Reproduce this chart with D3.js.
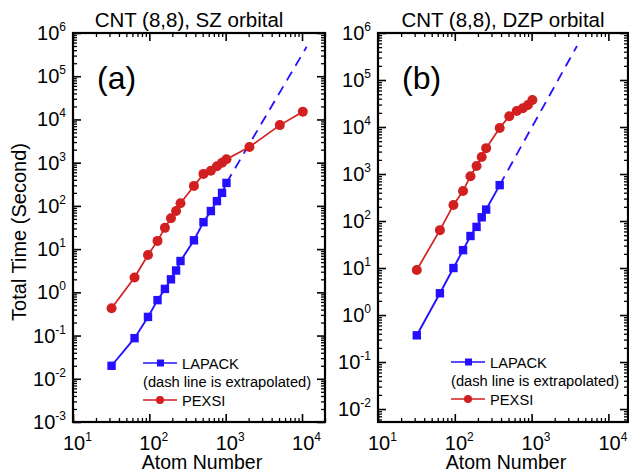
<!DOCTYPE html>
<html>
<head>
<meta charset="utf-8">
<script src="https://cdn.jsdelivr.net/npm/d3@7"></script>
<style>
  body { margin: 0; background: #fff; }
  svg { font-family: "Liberation Sans", Arial, sans-serif; }
</style>
</head>
<body>
<div id="chart"></div>
<script>
// atom numbers (CNT 8,8 : 32 atoms per cell)
const atomsA = [32, 64, 96, 128, 160, 192, 224, 256, 384, 512, 640, 768, 896, 1024];
const atomsPexsiA = [32, 64, 96, 128, 160, 192, 224, 256, 384, 512, 640, 768, 896, 1024, 2048, 5120, 10240];
const lapackA = [0.02, 0.087, 0.27, 0.66, 1.2, 2.0, 3.2, 5.3, 16, 42, 76, 129, 200, 340];
const pexsiA = [0.43, 2.2, 7.3, 15.5, 31, 52, 76, 115, 290, 550, 650, 830, 1000, 1200, 2300, 7400, 15000];
const extrapA = [[1024, 340], [11500, 480000]];

const atomsLapackB = [32, 64, 96, 128, 160, 192, 224, 256, 384];
const atomsPexsiB = [32, 64, 96, 128, 160, 192, 224, 256, 384, 512, 640, 768, 896, 1024];
const lapackB = [0.37, 2.9, 10, 24, 48, 75, 120, 175, 580];
const pexsiB = [9.1, 64, 220, 435, 900, 1480, 2300, 3550, 9500, 17000, 22000, 25000, 29500, 37500];
const extrapB = [[384, 580], [3900, 530000]];

const titles = ["CNT (8,8), SZ orbital", "CNT (8,8), DZP orbital"];
const panelTags = ["(a)", "(b)"];
const legendLabels = ["LAPACK", "(dash line is extrapolated)", "PEXSI"];

const blue = "#2410ff";
const red = "#d21f1f";

const W = 629, H = 472;
const svg = d3.select("#chart").append("svg")
    .attr("width", W)
    .attr("height", H);

function logTicks(lo, hi) {
    const major = [], minor = [];
    for (let e = Math.floor(Math.log10(lo)); e <= Math.ceil(Math.log10(hi)); e++) {
        for (let m = 1; m < 10; m++) {
            const v = m * Math.pow(10, e);
            if (v < lo * 0.999 || v > hi * 1.001) continue;
            if (m === 1) major.push(v); else minor.push(v);
        }
    }
    return {major, minor};
}

function drawPanel(p) {
    const x = d3.scaleLog().domain(p.xDomain).range([p.left, p.right]);
    const y = d3.scaleLog().domain(p.yDomain).range([p.bottom, p.top]);
    const g = svg.append("g");

    const xt = logTicks(p.xDomain[0], p.xDomain[1]);
    const yt = logTicks(p.yDomain[0], p.yDomain[1]);

    // ticks on all four sides, pointing inward
    const sides = [
        [d3.axisBottom(x), `translate(0,${p.bottom})`, xt],
        [d3.axisTop(x), `translate(0,${p.top})`, xt],
        [d3.axisLeft(y), `translate(${p.left},0)`, yt],
        [d3.axisRight(y), `translate(${p.right},0)`, yt]
    ];
    sides.forEach(([ax, tr, t]) => {
        g.append("g").attr("transform", tr)
            .call(ax.tickValues(t.minor).tickSizeInner(-4).tickSizeOuter(0).tickFormat(""))
            .call(a => a.select(".domain").remove())
            .selectAll("line").attr("stroke", "#000").attr("stroke-width", 1.3);
        g.append("g").attr("transform", tr)
            .call(ax.tickValues(t.major).tickSizeInner(-8).tickSizeOuter(0).tickFormat(""))
            .call(a => a.select(".domain").remove())
            .selectAll("line").attr("stroke", "#000").attr("stroke-width", 1.6);
    });

    // frame
    g.append("rect")
        .attr("x", p.left).attr("y", p.top)
        .attr("width", p.right - p.left).attr("height", p.bottom - p.top)
        .attr("fill", "none").attr("stroke", "#000").attr("stroke-width", 2.2);

    // x tick labels
    xt.major.forEach(v => {
        const e = Math.round(Math.log10(v));
        const t = g.append("text")
            .attr("x", x(v) - 10).attr("y", p.bottom + 28)
            .attr("font-size", 20).attr("text-anchor", "start");
        t.append("tspan").text("10");
        t.append("tspan").attr("dy", -9).attr("font-size", 12).text(e);
    });
    // y tick labels
    yt.major.forEach(v => {
        const e = Math.round(Math.log10(v));
        const t = g.append("text")
            .attr("x", p.left - 7).attr("y", y(v) + 7)
            .attr("font-size", 20).attr("text-anchor", "end");
        t.append("tspan").text("10");
        t.append("tspan").attr("dy", -9).attr("font-size", 12).text(e);
    });

    g.append("text")
        .attr("x", p.titleX).attr("y", 27)
        .attr("text-anchor", "middle").attr("font-size", 20.5)
        .text(p.title);
    g.append("text")
        .attr("x", (p.left + p.right) / 2 + 3).attr("y", 469)
        .attr("text-anchor", "middle").attr("font-size", 19.5)
        .text("Atom Number");
    g.append("text")
        .attr("x", p.left + 24).attr("y", 89)
        .attr("font-size", 32)
        .text(p.tag);

    const line = d3.line().x(d => x(d[0])).y(d => y(d[1]));

    // extrapolation
    g.append("path")
        .datum(p.extrap)
        .attr("d", line)
        .attr("fill", "none").attr("stroke", blue)
        .attr("stroke-width", 1.8).attr("stroke-dasharray", "10,7");

    const lap = p.lapackX.map((a, i) => [a, p.lapack[i]]);
    const pex = p.pexsiX.map((a, i) => [a, p.pexsi[i]]);

    g.append("path").datum(pex).attr("d", line)
        .attr("fill", "none").attr("stroke", red).attr("stroke-width", 1.7);
    g.selectAll(".pc").data(pex).enter().append("circle")
        .attr("cx", d => x(d[0])).attr("cy", d => y(d[1])).attr("r", 5)
        .attr("fill", red);

    g.append("path").datum(lap).attr("d", line)
        .attr("fill", "none").attr("stroke", blue).attr("stroke-width", 1.9);
    g.selectAll(".ls").data(lap).enter().append("rect")
        .attr("x", d => x(d[0]) - 4.2).attr("y", d => y(d[1]) - 4.2)
        .attr("width", 8.4).attr("height", 8.4)
        .attr("fill", blue);

    // legend
    const lx = p.left + p.legendDx, ly = p.legendY;
    g.append("line").attr("x1", lx).attr("x2", lx + 34).attr("y1", ly).attr("y2", ly)
        .attr("stroke", blue).attr("stroke-width", 1.6);
    g.append("rect").attr("x", lx + 14).attr("y", ly - 3.5).attr("width", 7).attr("height", 7).attr("fill", blue);
    g.append("line").attr("x1", lx).attr("x2", lx + 34).attr("y1", ly + 37).attr("y2", ly + 37)
        .attr("stroke", red).attr("stroke-width", 1.6);
    g.append("circle").attr("cx", lx + 17).attr("cy", ly + 37).attr("r", 4).attr("fill", red);
    g.append("text").attr("x", lx + 39).attr("y", ly + 5.5).attr("font-size", 14.7).text(legendLabels[0]);
    g.append("text").attr("x", lx).attr("y", ly + 24).attr("font-size", 14.7).text(legendLabels[1]);
    g.append("text").attr("x", lx + 39).attr("y", ly + 42.5).attr("font-size", 14.7).text(legendLabels[2]);
}

drawPanel({
    left: 73, right: 325, top: 33, bottom: 422,
    xDomain: [10, 20000], yDomain: [0.001, 1e6],
    title: titles[0], tag: panelTags[0], titleX: 189,
    lapackX: atomsA, lapack: lapackA, pexsiX: atomsPexsiA, pexsi: pexsiA, extrap: extrapA,
    legendDx: 70, legendY: 363
});
drawPanel({
    left: 378, right: 628, top: 33, bottom: 422,
    xDomain: [10, 18000], yDomain: [0.0053, 1e6],
    title: titles[1], tag: panelTags[1], titleX: 503,
    lapackX: atomsLapackB, lapack: lapackB, pexsiX: atomsPexsiB, pexsi: pexsiB, extrap: extrapB,
    legendDx: 73, legendY: 362
});

// shared y axis title
svg.append("text")
    .attr("transform", "translate(26,232) rotate(-90)")
    .attr("text-anchor", "middle").attr("font-size", 20)
    .text("Total Time (Second)");
</script>
</body>
</html>
